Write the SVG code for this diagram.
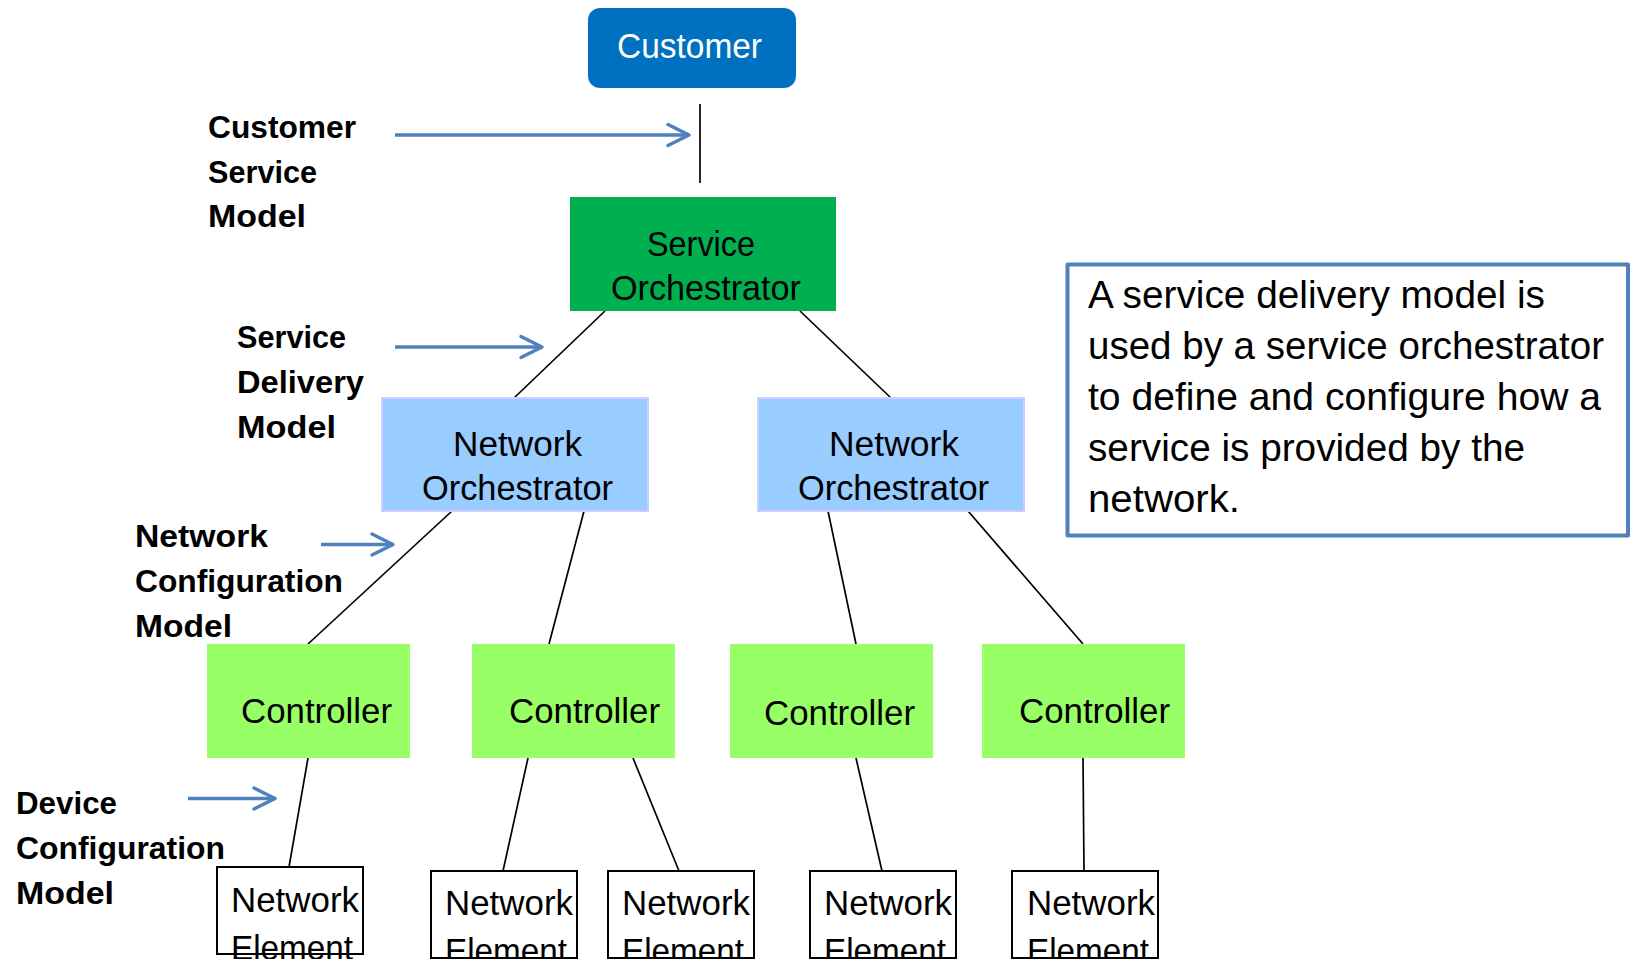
<svg xmlns="http://www.w3.org/2000/svg" width="1631" height="959" viewBox="0 0 1631 959">
  <style>
    .node-text { font-family: "Liberation Sans", Arial, sans-serif; font-size: 35px; fill: #000; }
    .label { font-family: "Liberation Sans", Arial, sans-serif; font-size: 32px; font-weight: bold; fill: #000; }
    .note { font-family: "Liberation Sans", Arial, sans-serif; font-size: 39px; fill: #000; }
    .link { stroke: #000; stroke-width: 1.7; fill: none; }
    .pointer { stroke: #4F81BD; stroke-width: 3.5; fill: none; marker-end: url(#chevron); }
    .ctrl { fill: #99FF66; }
    .netorch { fill: #99CCFF; stroke: #CCCCFF; stroke-width: 2; }
    .elem { fill: #FFFFFF; stroke: #000; stroke-width: 2; }
  </style>
  <defs>
    <marker id="chevron" viewBox="-26 -14 30 28" refX="0" refY="0" markerWidth="30" markerHeight="28" markerUnits="userSpaceOnUse" orient="auto">
      <path d="M-21,-10.5 L0,0 L-21,10.5" fill="none" stroke="#4F81BD" stroke-width="3.5" stroke-linecap="round" stroke-linejoin="round"/>
    </marker>
  </defs>

  <rect width="1631" height="959" fill="#FFFFFF"/>

  <!-- hierarchy links -->
  <g id="connectors">
    <line class="link" x1="700" y1="104" x2="700" y2="183" stroke-width="2"/>
    <line class="link" x1="605" y1="311" x2="514" y2="398"/>
    <line class="link" x1="800" y1="311" x2="891" y2="398"/>
    <line class="link" x1="452" y1="511" x2="308" y2="644"/>
    <line class="link" x1="584" y1="511" x2="549" y2="644"/>
    <line class="link" x1="828" y1="511" x2="856" y2="644"/>
    <line class="link" x1="968" y1="511" x2="1083" y2="644"/>
    <line class="link" x1="308" y1="758" x2="289" y2="867"/>
    <line class="link" x1="528" y1="758" x2="503" y2="871"/>
    <line class="link" x1="633" y1="758" x2="679" y2="871"/>
    <line class="link" x1="856" y1="758" x2="882" y2="871"/>
    <line class="link" x1="1083" y1="758" x2="1084" y2="871"/>
  </g>

  <!-- model pointers -->
  <g id="pointers">
    <line class="pointer" x1="395" y1="135" x2="689" y2="135"/>
    <line class="pointer" x1="395" y1="347" x2="542" y2="347"/>
    <line class="pointer" x1="321" y1="544.5" x2="393" y2="544.5"/>
    <line class="pointer" x1="188" y1="798.5" x2="275" y2="798.5"/>
  </g>

  <!-- model labels -->
  <g id="label-customer-service-model">
    <text class="label" x="208" y="138" textLength="148" lengthAdjust="spacingAndGlyphs">Customer</text>
    <text class="label" x="208" y="183" textLength="109" lengthAdjust="spacingAndGlyphs">Service</text>
    <text class="label" x="208" y="227" textLength="98" lengthAdjust="spacingAndGlyphs">Model</text>
  </g>
  <g id="label-service-delivery-model">
    <text class="label" x="237" y="348" textLength="109" lengthAdjust="spacingAndGlyphs">Service</text>
    <text class="label" x="237" y="393" textLength="127" lengthAdjust="spacingAndGlyphs">Delivery</text>
    <text class="label" x="237" y="438" textLength="99" lengthAdjust="spacingAndGlyphs">Model</text>
  </g>
  <g id="label-network-configuration-model">
    <text class="label" x="135" y="547" textLength="133" lengthAdjust="spacingAndGlyphs">Network</text>
    <text class="label" x="135" y="592" textLength="208" lengthAdjust="spacingAndGlyphs">Configuration</text>
    <text class="label" x="135" y="637" textLength="97" lengthAdjust="spacingAndGlyphs">Model</text>
  </g>
  <g id="label-device-configuration-model">
    <text class="label" x="16" y="814" textLength="101" lengthAdjust="spacingAndGlyphs">Device</text>
    <text class="label" x="16" y="859" textLength="209" lengthAdjust="spacingAndGlyphs">Configuration</text>
    <text class="label" x="16" y="904" textLength="98" lengthAdjust="spacingAndGlyphs">Model</text>
  </g>

  <!-- nodes -->
  <g id="customer">
    <rect x="588" y="8" width="208" height="80" rx="12" ry="12" fill="#0070C0"/>
    <text class="node-text" x="617" y="58" style="fill:#FFFFFF" textLength="145" lengthAdjust="spacingAndGlyphs">Customer</text>
  </g>

  <g id="service-orchestrator">
    <rect x="570" y="197" width="266" height="114" fill="#00B050"/>
    <text class="node-text" x="647" y="256" textLength="108" lengthAdjust="spacingAndGlyphs">Service</text>
    <text class="node-text" x="611" y="300" textLength="190" lengthAdjust="spacingAndGlyphs">Orchestrator</text>
  </g>

  <g id="network-orchestrator-1">
    <rect class="netorch" x="382" y="398" width="266" height="113"/>
    <text class="node-text" x="453" y="456" textLength="129" lengthAdjust="spacingAndGlyphs">Network</text>
    <text class="node-text" x="422" y="500" textLength="191" lengthAdjust="spacingAndGlyphs">Orchestrator</text>
  </g>

  <g id="network-orchestrator-2">
    <rect class="netorch" x="758" y="398" width="266" height="113"/>
    <text class="node-text" x="829" y="456" textLength="130" lengthAdjust="spacingAndGlyphs">Network</text>
    <text class="node-text" x="798" y="500" textLength="191" lengthAdjust="spacingAndGlyphs">Orchestrator</text>
  </g>

  <g id="controller-1">
    <rect class="ctrl" x="207" y="644" width="203" height="114"/>
    <text class="node-text" x="241" y="723" textLength="151" lengthAdjust="spacingAndGlyphs">Controller</text>
  </g>
  <g id="controller-2">
    <rect class="ctrl" x="472" y="644" width="203" height="114"/>
    <text class="node-text" x="509" y="723" textLength="151" lengthAdjust="spacingAndGlyphs">Controller</text>
  </g>
  <g id="controller-3">
    <rect class="ctrl" x="730" y="644" width="203" height="114"/>
    <text class="node-text" x="764" y="725" textLength="151" lengthAdjust="spacingAndGlyphs">Controller</text>
  </g>
  <g id="controller-4">
    <rect class="ctrl" x="982" y="644" width="203" height="114"/>
    <text class="node-text" x="1019" y="723" textLength="151" lengthAdjust="spacingAndGlyphs">Controller</text>
  </g>

  <g id="network-element-1">
    <rect class="elem" x="217" y="867" width="146" height="87"/>
    <text class="node-text" x="231" y="912" textLength="128" lengthAdjust="spacingAndGlyphs">Network</text>
    <text class="node-text" x="231" y="960" textLength="122" lengthAdjust="spacingAndGlyphs">Element</text>
  </g>
  <g id="network-element-2">
    <rect class="elem" x="431" y="871" width="146" height="87"/>
    <text class="node-text" x="445" y="915" textLength="128" lengthAdjust="spacingAndGlyphs">Network</text>
    <text class="node-text" x="445" y="963" textLength="122" lengthAdjust="spacingAndGlyphs">Element</text>
  </g>
  <g id="network-element-3">
    <rect class="elem" x="608" y="871" width="146" height="87"/>
    <text class="node-text" x="622" y="915" textLength="128" lengthAdjust="spacingAndGlyphs">Network</text>
    <text class="node-text" x="622" y="963" textLength="122" lengthAdjust="spacingAndGlyphs">Element</text>
  </g>
  <g id="network-element-4">
    <rect class="elem" x="810" y="871" width="146" height="87"/>
    <text class="node-text" x="824" y="915" textLength="128" lengthAdjust="spacingAndGlyphs">Network</text>
    <text class="node-text" x="824" y="963" textLength="122" lengthAdjust="spacingAndGlyphs">Element</text>
  </g>
  <g id="network-element-5">
    <rect class="elem" x="1012" y="871" width="146" height="87"/>
    <text class="node-text" x="1027" y="915" textLength="128" lengthAdjust="spacingAndGlyphs">Network</text>
    <text class="node-text" x="1027" y="963" textLength="122" lengthAdjust="spacingAndGlyphs">Element</text>
  </g>

  <!-- explanatory note -->
  <g id="note">
    <rect x="1067.5" y="264.5" width="560.5" height="271" fill="#FFFFFF" stroke="#4F81BD" stroke-width="4" stroke-linejoin="round"/>
    <text class="note" x="1088" y="308" textLength="457" lengthAdjust="spacingAndGlyphs">A service delivery model is</text>
    <text class="note" x="1088" y="359" textLength="516" lengthAdjust="spacingAndGlyphs">used by a service orchestrator</text>
    <text class="note" x="1088" y="410" textLength="513" lengthAdjust="spacingAndGlyphs">to define and configure how a</text>
    <text class="note" x="1088" y="461" textLength="437" lengthAdjust="spacingAndGlyphs">service is provided by the</text>
    <text class="note" x="1088" y="512" textLength="152" lengthAdjust="spacingAndGlyphs">network.</text>
  </g>
</svg>
